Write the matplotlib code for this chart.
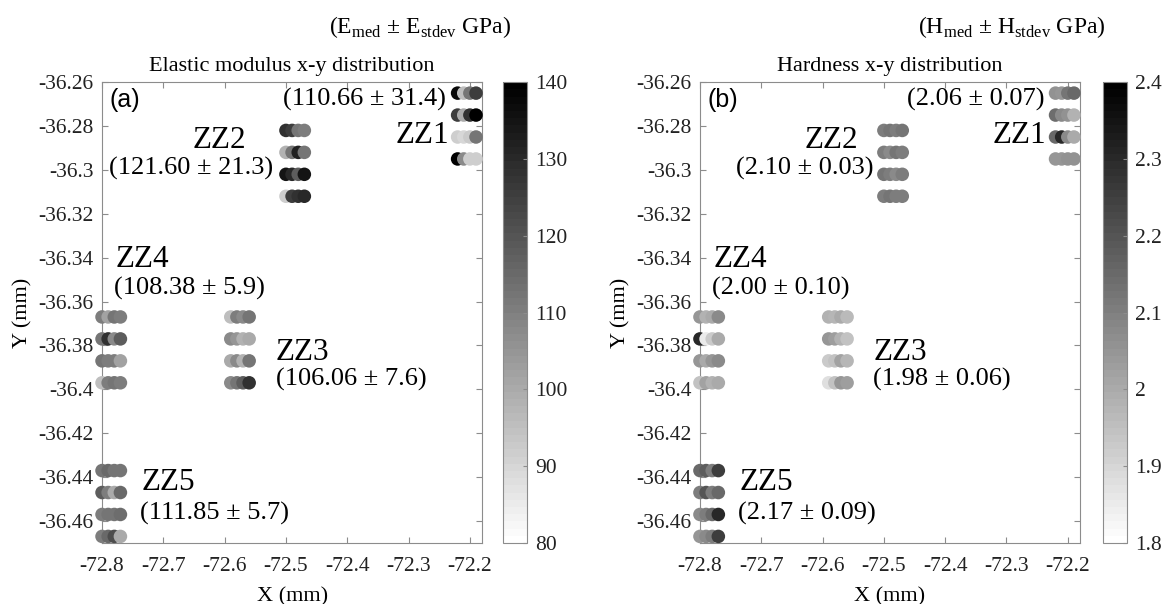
import matplotlib
matplotlib.use('Agg')
import matplotlib.pyplot as plt
import numpy as np

plt.rcParams['font.family'] = ['Liberation Serif', 'DejaVu Serif']
plt.rcParams['mathtext.fontset'] = 'custom'
plt.rcParams['mathtext.rm'] = 'Liberation Serif'

# zone names and grid positions (4 rows x 4 columns of indents per zone)
zones = ['ZZ1', 'ZZ2', 'ZZ3', 'ZZ4', 'ZZ5']
zone_x = {'ZZ1': [-72.22, -72.21, -72.20, -72.19],
          'ZZ2': [-72.50, -72.49, -72.48, -72.47],
          'ZZ3': [-72.59, -72.58, -72.57, -72.56],
          'ZZ4': [-72.80, -72.79, -72.78, -72.77],
          'ZZ5': [-72.80, -72.79, -72.78, -72.77]}
zone_y = {'ZZ1': [-36.265, -36.275, -36.285, -36.295],
          'ZZ2': [-36.282, -36.292, -36.302, -36.312],
          'ZZ3': [-36.367, -36.377, -36.387, -36.397],
          'ZZ4': [-36.367, -36.377, -36.387, -36.397],
          'ZZ5': [-36.437, -36.447, -36.457, -36.467]}

# elastic modulus (GPa), rows top -> bottom, columns left -> right
E = {'ZZ1': [[138, 95, 112, 125], [125, 100, 128, 140], [92, 90, 93, 112], [140, 108, 92, 92]],
     'ZZ2': [[128, 125, 112, 110], [98, 112, 132, 112], [135, 130, 118, 135], [92, 125, 128, 130]],
     'ZZ3': [[95, 110, 108, 112], [108, 105, 98, 100], [100, 108, 98, 112], [108, 112, 118, 128]],
     'ZZ4': [[110, 102, 112, 110], [112, 128, 108, 118], [112, 110, 110, 102], [95, 110, 112, 110]],
     'ZZ5': [[112, 115, 112, 112], [118, 110, 100, 115], [110, 112, 112, 114], [110, 115, 122, 100]]}

# hardness (GPa)
H = {'ZZ1': [[2.06, 2.05, 2.12, 2.15], [2.14, 2.08, 2.06, 1.98], [2.15, 2.30, 2.08, 2.00], [2.05, 2.05, 2.06, 2.06]],
     'ZZ2': [[2.10, 2.12, 2.10, 2.12], [2.10, 2.08, 2.12, 2.10], [2.12, 2.10, 2.08, 2.10], [2.10, 2.12, 2.10, 2.10]],
     'ZZ3': [[1.98, 1.97, 2.00, 1.96], [2.05, 2.03, 1.98, 1.95], [1.93, 1.95, 2.02, 1.97], [1.88, 1.95, 2.05, 2.03]],
     'ZZ4': [[2.05, 1.98, 2.00, 2.08], [2.30, 1.85, 1.93, 2.00], [2.05, 2.00, 2.05, 2.08], [1.95, 2.02, 1.98, 2.00]],
     'ZZ5': [[2.15, 2.18, 2.10, 2.25], [2.10, 2.20, 2.10, 2.15], [2.08, 2.10, 2.15, 2.30], [2.05, 2.08, 2.10, 2.25]]}

E_labels = {'ZZ1': '(110.66 ± 31.4)', 'ZZ2': '(121.60 ± 21.3)', 'ZZ3': '(106.06 ± 7.6)',
            'ZZ4': '(108.38 ± 5.9)', 'ZZ5': '(111.85 ± 5.7)'}
H_labels = {'ZZ1': '(2.06 ± 0.07)', 'ZZ2': '(2.10 ± 0.03)', 'ZZ3': '(1.98 ± 0.06)',
            'ZZ4': '(2.00 ± 0.10)', 'ZZ5': '(2.17 ± 0.09)'}

# text anchors (data coords): zone name position, value position
name_pos_E = {'ZZ1': (-72.322, -36.2845), 'ZZ2': (-72.652, -36.2865), 'ZZ3': (-72.517, -36.383),
              'ZZ4': (-72.778, -36.341), 'ZZ5': (-72.736, -36.4425)}
name_pos_H = {'ZZ1': (-72.322, -36.2845), 'ZZ2': (-72.63, -36.2865), 'ZZ3': (-72.517, -36.383),
              'ZZ4': (-72.778, -36.341), 'ZZ5': (-72.736, -36.4425)}
val_pos_E = {'ZZ1': (-72.505, -36.268), 'ZZ2': (-72.788, -36.2995), 'ZZ3': (-72.517, -36.3955),
             'ZZ4': (-72.78, -36.354), 'ZZ5': (-72.738, -36.4565)}
val_pos_H = {'ZZ1': (-72.462, -36.268), 'ZZ2': (-72.742, -36.2995), 'ZZ3': (-72.517, -36.3955),
             'ZZ4': (-72.78, -36.354), 'ZZ5': (-72.738, -36.4565)}

x_ticks = [-72.8, -72.7, -72.6, -72.5, -72.4, -72.3, -72.2]
y_ticks = [-36.46, -36.44, -36.42, -36.40, -36.38, -36.36, -36.34, -36.32, -36.30, -36.28, -36.26]

cmap = plt.get_cmap('gray_r', 64)
spine_col = '#8c8c8c'

fig = plt.figure(figsize=(11.66, 6.04), dpi=100)


def panel(left, cb_left, data, labels, name_pos, val_pos, vmin, vmax, cticks, title, letter, head, head_x):
    ax = fig.add_axes([left, 0.101, 0.326, 0.763])
    for z in zones:
        for r, yy in enumerate(zone_y[z]):
            sc = ax.scatter(zone_x[z], [yy] * 4, c=data[z][r], cmap=cmap, vmin=vmin, vmax=vmax,
                            s=95, edgecolors='none', clip_on=False, zorder=3)
        ax.text(*name_pos[z], z, fontsize=22.5, va='center', ha='left')
        ax.text(*val_pos[z], labels[z], fontsize=19, va='center', ha='left')
    ax.set_xlim(-72.8, -72.18)
    ax.set_ylim(-36.47, -36.26)
    ax.set_xticks(x_ticks)
    ax.set_yticks(y_ticks)
    ax.set_xticklabels(['%g' % v for v in x_ticks])
    ax.set_yticklabels(['%g' % v for v in y_ticks])
    ax.tick_params(direction='in', length=4, top=True, right=True, labelsize=15.5,
                   color=spine_col, labelcolor='#222222', pad=6)
    ax.tick_params(axis='x', pad=10)
    for s in ax.spines.values():
        s.set_color(spine_col)
    ax.set_xlabel('X (mm)', fontsize=16, labelpad=8)
    ax.set_ylabel('Y (mm)', fontsize=16, labelpad=4)
    ax.set_title(title, fontsize=16, pad=8)
    ax.text(0.02, 0.988, letter, transform=ax.transAxes, fontsize=18, va='top', ha='left',
            family=['Liberation Sans', 'DejaVu Sans'])
    fig.text(head_x, 0.955, head, fontsize=17, ha='center', va='center')

    cax = fig.add_axes([cb_left, 0.101, 0.0206, 0.763])
    cb = fig.colorbar(sc, cax=cax, ticks=cticks)
    cb.ax.set_yticklabels(['%g' % v for v in cticks])
    cb.ax.tick_params(direction='in', length=3, labelsize=15.5, color=spine_col,
                      labelcolor='#222222', pad=6)
    cb.outline.set_edgecolor(spine_col)
    return ax


panel(0.0875, 0.4314, E, E_labels, name_pos_E, val_pos_E, 80, 140, [80, 90, 100, 110, 120, 130, 140],
      'Elastic modulus x-y distribution', '(a)',
      r'(E$_{\mathrm{med}}$ ± E$_{\mathrm{stdev}}$ GPa)', 0.36)
panel(0.6003, 0.946, H, H_labels, name_pos_H, val_pos_H, 1.8, 2.4, [1.8, 1.9, 2.0, 2.1, 2.2, 2.3, 2.4],
      'Hardness x-y distribution', '(b)',
      r'(H$_{\mathrm{med}}$ ± H$_{\mathrm{stdev}}$ GPa)', 0.868)

fig.savefig('out.png', dpi=100)
